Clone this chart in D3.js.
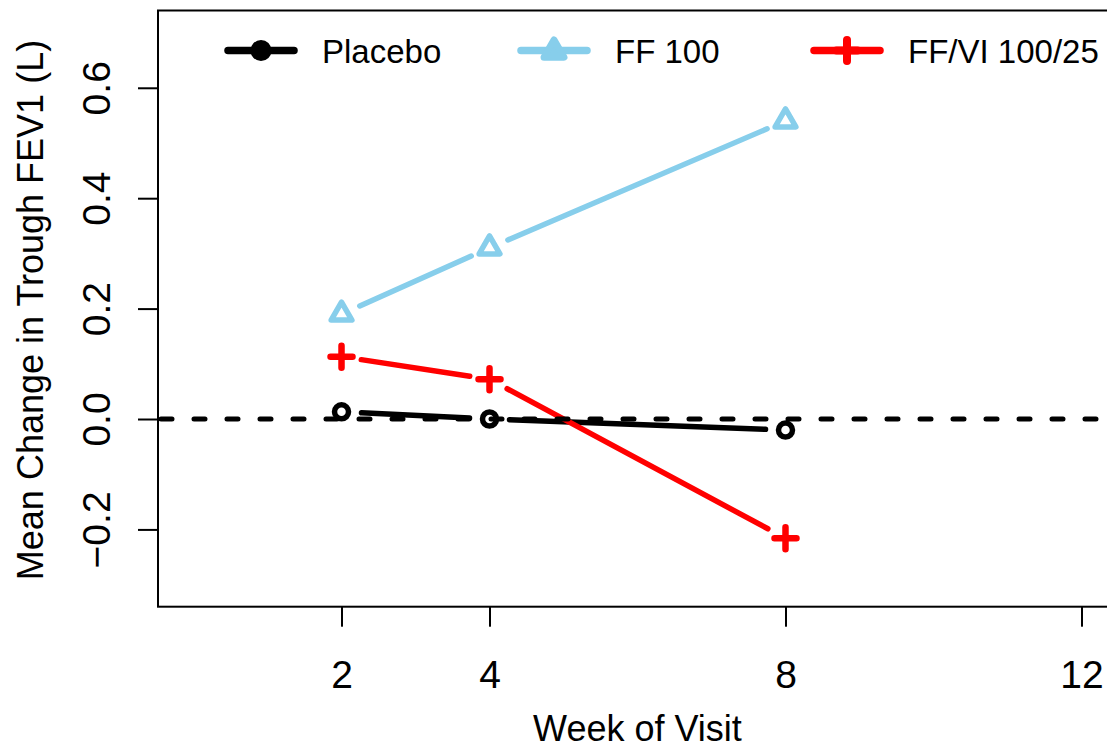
<!DOCTYPE html>
<html>
<head>
<meta charset="utf-8">
<script src="https://cdn.jsdelivr.net/npm/d3@7"></script>
<style>
  body { margin: 0; background: #fff; }
  svg { display: block; font-family: "Liberation Sans", Arial, sans-serif; }
</style>
</head>
<body>
<svg width="1107" height="748"></svg>
<script>

var weeks = [2, 4, 8],
    placebo = [0.013, 0.0, -0.02],
    ff100 = [0.19, 0.31, 0.54],
    ffvi = [0.113, 0.072, -0.216];

var seriesNames = ['Placebo', 'FF 100', 'FF/VI 100/25'],
    seriesColors = ['#000000', '#87CEEB', '#FF0000'],
    seriesShapes = ['circle', 'triangle', 'plus'];

var xTicks = [2, 4, 8, 12],
    yTicks = [-0.2, 0.0, 0.2, 0.4, 0.6];

var xLabel = 'Week of Visit',
    yLabel = 'Mean Change in Trough FEV1 (L)';

var svg = d3.select('svg');

// plot region (R style: limits padded by 4%)
var x = d3.scaleLinear().domain([-0.48, 12.48]).range([158, 1117]);
var y = d3.scaleLinear().domain([-0.34, 0.74]).range([606.7, 10.5]);

var series = [placebo, ff100, ffvi].map(function(vals, i) {
  return {
    name: seriesNames[i],
    color: seriesColors[i],
    shape: seriesShapes[i],
    points: weeks.map(function(w, j) { return [x(w), y(vals[j])]; })
  };
});

svg.append('defs').append('clipPath')
    .attr('id', 'plotclip')
  .append('rect')
    .attr('x', x.range()[0])
    .attr('y', y.range()[1])
    .attr('width', x.range()[1] - x.range()[0])
    .attr('height', y.range()[0] - y.range()[1]);

var plot = svg.append('g').attr('clip-path', 'url(#plotclip)');

// draw a marker shape at (cx, cy)
function marker(g, shape, color, cx, cy, s) {
  if (shape === 'circle') {
    g.append('circle')
        .attr('cx', cx).attr('cy', cy).attr('r', s.r + 1)
        .attr('fill', 'none')
        .attr('stroke', color)
        .attr('stroke-width', s.sw);
  } else if (shape === 'triangle') {
    var r = s.r + 6, h = r * Math.sqrt(3) / 2;
    g.append('path')
        .attr('d', 'M' + cx + ',' + (cy - r) +
                   'L' + (cx + h) + ',' + (cy + r / 2) +
                   'L' + (cx - h) + ',' + (cy + r / 2) + 'Z')
        .attr('fill', 'none')
        .attr('stroke', color)
        .attr('stroke-width', s.sw)
        .attr('stroke-linejoin', 'round');
  } else {
    var a = s.r + 5;
    g.append('path')
        .attr('d', 'M' + (cx - a) + ',' + cy + 'H' + (cx + a) +
                   'M' + cx + ',' + (cy - a) + 'V' + (cy + a))
        .attr('stroke', color)
        .attr('stroke-width', s.sw + 1)
        .attr('stroke-linecap', 'round');
  }
}

// type = "b": segments with a gap round each point
var gap = 20;
series.forEach(function(s) {
  var g = plot.append('g');
  for (var i = 0; i < s.points.length - 1; i++) {
    var p = s.points[i], q = s.points[i + 1];
    var dx = q[0] - p[0], dy = q[1] - p[1];
    var len = Math.sqrt(dx * dx + dy * dy);
    var ux = dx / len, uy = dy / len;
    g.append('line')
        .attr('x1', p[0] + ux * gap).attr('y1', p[1] + uy * gap)
        .attr('x2', q[0] - ux * gap).attr('y2', q[1] - uy * gap)
        .attr('stroke', s.color)
        .attr('stroke-width', 5.5)
        .attr('stroke-linecap', 'round');
  }
  s.points.forEach(function(p) {
    marker(g, s.shape, s.color, p[0], p[1], {r: 6, sw: 5.5});
  });
});

// reference line at zero
plot.append('line')
    .attr('x1', x.range()[0] + 3).attr('x2', x.range()[1])
    .attr('y1', y(0)).attr('y2', y(0))
    .attr('stroke', '#000')
    .attr('stroke-width', 5)
    .attr('stroke-dasharray', '11,22')
    .attr('stroke-linecap', 'round');

// box
svg.append('rect')
    .attr('x', x.range()[0])
    .attr('y', y.range()[1])
    .attr('width', x.range()[1] - x.range()[0])
    .attr('height', y.range()[0] - y.range()[1])
    .attr('fill', 'none')
    .attr('stroke', '#000')
    .attr('stroke-width', 2);

// x axis
var xAxis = svg.append('g')
    .attr('transform', 'translate(0,' + y.range()[0] + ')')
    .call(d3.axisBottom(x).tickValues(xTicks).tickSize(20).tickPadding(34));
xAxis.select('.domain').remove();
xAxis.selectAll('line').attr('stroke-width', 2);
xAxis.selectAll('text')
    .attr('font-family', '"Liberation Sans", Arial, sans-serif')
    .attr('font-size', 39)
    .attr('fill', '#000');

// y axis, labels parallel to the axis
var yAxis = svg.append('g')
    .attr('transform', 'translate(' + x.range()[0] + ',0)')
    .call(d3.axisLeft(y).tickValues(yTicks).tickSize(20)
      .tickFormat(function(d) { return d3.format('.1f')(d).replace('-', '\u2212'); }));
yAxis.select('.domain').remove();
yAxis.selectAll('line').attr('stroke-width', 2);
yAxis.selectAll('text')
    .attr('font-family', '"Liberation Sans", Arial, sans-serif')
    .attr('font-size', 39)
    .attr('fill', '#000')
    .attr('x', null).attr('dy', null)
    .attr('text-anchor', 'middle')
    .attr('transform', 'translate(-48,0) rotate(-90)');

// axis titles
svg.append('text')
    .attr('x', (x.range()[0] + x.range()[1]) / 2)
    .attr('y', 741)
    .attr('text-anchor', 'middle')
    .attr('font-size', 36)
    .text(xLabel);

svg.append('text')
    .attr('transform', 'translate(43,310) rotate(-90)')
    .attr('text-anchor', 'middle')
    .attr('font-size', 36)
    .text(yLabel);

// legend, horizontal, no box
var legend = svg.append('g'),
    legX = 228, legY = 50.5, legStep = 293;
series.forEach(function(s, i) {
  var x0 = legX + i * legStep;
  var g = legend.append('g');
  g.append('line')
      .attr('x1', x0).attr('x2', x0 + 66)
      .attr('y1', legY).attr('y2', legY)
      .attr('stroke', s.color)
      .attr('stroke-width', 7.5)
      .attr('stroke-linecap', 'round');
  marker(g, s.shape, s.color, x0 + 33, legY + (s.shape === 'triangle' ? 1 : 0),
      s.shape === 'circle' ? {r: 5, sw: 9} : {r: 5.5, sw: 7});
  g.append('text')
      .attr('x', x0 + 94)
      .attr('y', legY + 12)
      .attr('font-size', 33)
      .text(s.name);
});

</script>
</body>
</html>
